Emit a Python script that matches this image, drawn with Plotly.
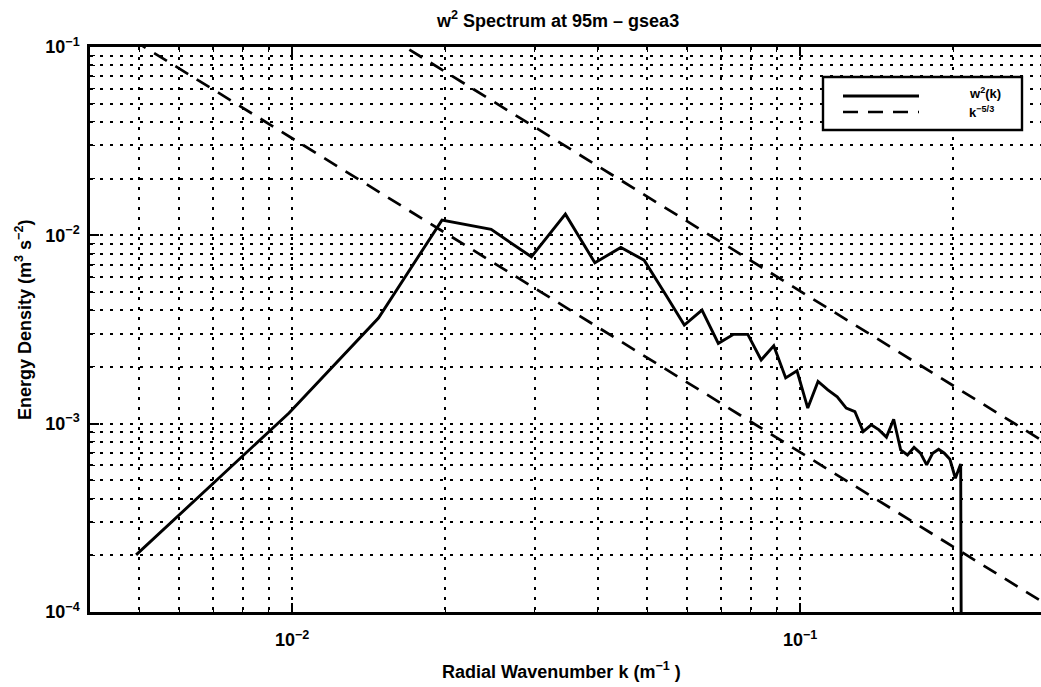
import math
import plotly.graph_objects as go

# ---- data ----
k_vals = [0.00493, 0.00986, 0.01479, 0.01972, 0.02465, 0.02958, 0.03451, 0.03944,
          0.04437, 0.0493, 0.05423, 0.05916, 0.06409, 0.06902, 0.07395, 0.07888,
          0.08381, 0.08874, 0.09367, 0.0986, 0.10353, 0.10846, 0.11339, 0.11832,
          0.12325, 0.12818, 0.13311, 0.13804, 0.14297, 0.1479, 0.15283, 0.15776,
          0.16269, 0.16762, 0.17255, 0.17748, 0.18241, 0.18734, 0.19227, 0.1972,
          0.20213, 0.20706, 0.21199]
w2_vals = [2.01e-4, 1.14e-3, 3.64e-3, 1.204e-2, 1.075e-2, 7.69e-3, 1.296e-2, 7.15e-3,
           8.62e-3, 7.38e-3, 4.89e-3, 3.34e-3, 4.01e-3, 2.67e-3, 2.98e-3, 2.98e-3,
           2.18e-3, 2.59e-3, 1.75e-3, 1.91e-3, 1.21e-3, 1.675e-3, 1.51e-3, 1.39e-3,
           1.21e-3, 1.16e-3, 9.08e-4, 9.85e-4, 9.27e-4, 8.48e-4, 1.055e-3, 7.25e-4,
           6.82e-4, 7.49e-4, 6.97e-4, 6.04e-4, 6.97e-4, 7.31e-4, 6.97e-4, 6.47e-4,
           5.13e-4, 6.11e-4, 1e-12]

# k^(-5/3) reference lines: E = C * k^(-5/3)
ref_k = [0.003, 0.3]
ref_consts = [1.52e-5, 1.09e-4]

x_major = [0.01, 0.1]
x_major_text = ["10<sup>\u22122</sup>", "10<sup>\u22121</sup>"]
y_major = [1e-4, 1e-3, 1e-2, 1e-1]
y_major_text = ["10<sup>\u22124</sup>", "10<sup>\u22123</sup>",
                "10<sup>\u22122</sup>", "10<sup>\u22121</sup>"]

title_text = "<b>w<sup>2</sup> Spectrum at 95m \u2013 gsea3</b>"
xlabel = "<b>Radial Wavenumber k (m<sup>\u22121</sup> )</b>"
ylabel = "<b>Energy Density (m<sup>3</sup> s<sup>\u22122</sup>)</b>"
legend_labels = ["<b>w<sup>2</sup>(k)</b>", "<b>k<sup>\u22125/3</sup></b>"]

# ---- layout geometry ----
W, H = 1041, 687
L, R, T, B = 90, 0, 47, 75
FONT = "Liberation Sans, Arial, Helvetica, sans-serif"


def px(xp):
    return (xp - L) / (W - L - R)


def py(yp):
    return 1 - (yp - T) / (H - T - B)


x_minor = [m * 10 ** e for e in (-3, -2, -1) for m in range(2, 10)]
x_minor = [v for v in x_minor if 0.004 <= v <= 0.3]
y_minor = [m * 10 ** e for e in (-4, -3, -2) for m in range(2, 10)]

fig = go.Figure()

for c in ref_consts:
    fig.add_trace(go.Scatter(
        x=ref_k, y=[c * kk ** (-5.0 / 3.0) for kk in ref_k],
        mode="lines", line=dict(color="black", width=2.7, dash="15px,10px"),
        showlegend=False, hoverinfo="skip"))

fig.add_trace(go.Scatter(
    x=k_vals, y=w2_vals, mode="lines",
    line=dict(color="black", width=2.9), showlegend=False))

grid_dash = "2.5px,7.5px"
grid_w = 2.2
axis_common = dict(
    type="log", showline=True, linecolor="black", linewidth=2.5,
    ticks="inside", ticklen=9, tickwidth=1.8, tickcolor="black",
    showgrid=True, gridcolor="black", gridwidth=grid_w, griddash=grid_dash,
    zeroline=False, tickmode="array",
    tickfont=dict(family=FONT, size=18, color="black", weight="bold"),
)

fig.update_layout(
    width=W, height=H,
    margin=dict(l=L, r=R, t=T, b=B),
    paper_bgcolor="white", plot_bgcolor="white",
    font=dict(family=FONT, color="black", size=18),
    xaxis=dict(axis_common, range=[math.log10(0.004), math.log10(0.298)],
               tickvals=x_major, ticktext=x_major_text, mirror="allticks",
               ticklabelstandoff=10,
               minor=dict(tickvals=x_minor, ticks="inside", ticklen=5,
                          tickcolor="black", tickwidth=1.4, showgrid=True,
                          gridcolor="black", gridwidth=grid_w, griddash=grid_dash)),
    yaxis=dict(axis_common, range=[-4, -1],
               tickvals=y_major, ticktext=y_major_text, mirror=False,
               ticklabelstandoff=4,
               minor=dict(tickvals=y_minor, ticks="inside", ticklen=5,
                          tickcolor="black", tickwidth=1.4, showgrid=True,
                          gridcolor="black", gridwidth=grid_w, griddash=grid_dash)),
    showlegend=False,
)

annotations = [
    dict(text=title_text, xref="paper", yref="paper", x=px(557), y=py(19),
         xanchor="center", yanchor="middle", showarrow=False,
         font=dict(family=FONT, size=18, color="black")),
    dict(text=xlabel, xref="paper", yref="paper", x=px(561), y=py(670),
         xanchor="center", yanchor="middle", showarrow=False,
         font=dict(family=FONT, size=18, color="black")),
    dict(text=ylabel, xref="paper", yref="paper", x=px(23), y=py(320),
         xanchor="center", yanchor="middle", showarrow=False, textangle=-90,
         font=dict(family=FONT, size=18, color="black")),
    dict(text=legend_labels[0], xref="paper", yref="paper", x=px(967), y=py(93),
         xanchor="left", yanchor="middle", showarrow=False,
         font=dict(family=FONT, size=13, color="black")),
    dict(text=legend_labels[1], xref="paper", yref="paper", x=px(967), y=py(112),
         xanchor="left", yanchor="middle", showarrow=False,
         font=dict(family=FONT, size=13, color="black")),
]
fig.update_layout(annotations=annotations)

shapes = [
    dict(type="rect", xref="paper", yref="paper", x0=px(823), x1=px(1022),
         y0=py(130), y1=py(77), line=dict(color="black", width=2.4),
         fillcolor="white", layer="above"),
    dict(type="line", xref="paper", yref="paper", x0=px(843), x1=px(919),
         y0=py(96), y1=py(96), line=dict(color="black", width=2.9), layer="above"),
    dict(type="line", xref="paper", yref="paper", x0=px(843), x1=px(919),
         y0=py(112), y1=py(112), line=dict(color="black", width=2.7, dash="15px,10px"),
         layer="above"),
]
fig.update_layout(shapes=shapes)

fig.write_html("out.html")
